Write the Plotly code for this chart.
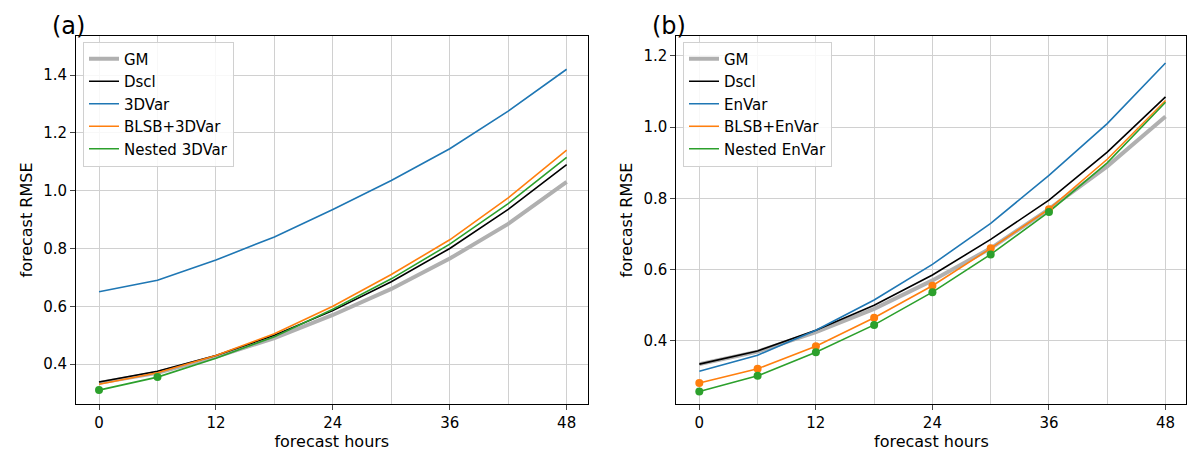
import plotly.graph_objects as go
from plotly.subplots import make_subplots

hours = [0, 6, 12, 18, 24, 30, 36, 42, 48]

# panel (a)
gm_a = [0.335, 0.370, 0.425, 0.490, 0.570, 0.660, 0.765, 0.885, 1.030]
dscl_a = [0.338, 0.375, 0.430, 0.500, 0.585, 0.685, 0.800, 0.935, 1.090]
var3d_a = [0.650, 0.690, 0.760, 0.840, 0.935, 1.035, 1.145, 1.275, 1.420]
blsb_a = [0.330, 0.370, 0.430, 0.505, 0.600, 0.710, 0.830, 0.975, 1.140]
nested_a = [0.310, 0.355, 0.420, 0.495, 0.590, 0.695, 0.815, 0.955, 1.115]
nested_a_marks = [0, 6]

# panel (b)
gm_b = [0.335, 0.370, 0.425, 0.490, 0.570, 0.660, 0.770, 0.890, 1.030]
dscl_b = [0.335, 0.372, 0.430, 0.500, 0.585, 0.685, 0.795, 0.930, 1.085]
envar_b = [0.315, 0.360, 0.430, 0.515, 0.615, 0.730, 0.865, 1.010, 1.180]
blsb_b = [0.282, 0.322, 0.385, 0.465, 0.555, 0.660, 0.770, 0.910, 1.075]
nested_b = [0.258, 0.302, 0.368, 0.445, 0.537, 0.643, 0.762, 0.900, 1.070]
marks_b = [0, 6, 12, 18, 24, 30, 36]

GRAY, BLACK, BLUE, ORANGE, GREEN = "#b0b0b0", "#000000", "#1f77b4", "#ff7f0e", "#2ca02c"

fig = make_subplots(rows=1, cols=2)


def add_panel(col, series, leg):
    for name, y, color, width in series:
        fig.add_trace(go.Scatter(x=hours, y=y, mode="lines", name=name,
                                 line=dict(color=color, width=width),
                                 legend=leg), row=1, col=col)


def add_marks(col, y, color, keep, leg):
    xs = [h for h in hours if h in keep]
    ys = [v for h, v in zip(hours, y) if h in keep]
    fig.add_trace(go.Scatter(x=xs, y=ys, mode="markers", showlegend=False,
                             marker=dict(color=color, size=8), legend=leg),
                  row=1, col=col)


add_panel(1, [("GM", gm_a, GRAY, 4), ("Dscl", dscl_a, BLACK, 1.6),
              ("3DVar", var3d_a, BLUE, 1.6), ("BLSB+3DVar", blsb_a, ORANGE, 1.6),
              ("Nested 3DVar", nested_a, GREEN, 1.6)], "legend")
add_marks(1, nested_a, GREEN, nested_a_marks, "legend")

add_panel(2, [("GM", gm_b, GRAY, 4), ("Dscl", dscl_b, BLACK, 1.6),
              ("EnVar", envar_b, BLUE, 1.6), ("BLSB+EnVar", blsb_b, ORANGE, 1.6),
              ("Nested EnVar", nested_b, GREEN, 1.6)], "legend2")
add_marks(2, blsb_b, ORANGE, marks_b, "legend2")
add_marks(2, nested_b, GREEN, marks_b, "legend2")

axis_common = dict(showgrid=True, gridcolor="#d0d0d0", gridwidth=1, showline=True,
                   linecolor="black", mirror=True, ticks="outside", ticklen=5,
                   zeroline=False, tickfont=dict(size=15))
for c in (1, 2):
    fig.update_xaxes(range=[-2.36, 50.15], tickvals=[0, 12, 24, 36, 48],
                     title=dict(text="forecast hours", font=dict(size=16), standoff=2),
                     minor=dict(dtick=6, tick0=0, showgrid=True, gridcolor="#d0d0d0"),
                     row=1, col=c, **axis_common)
    fig.update_yaxes(title=dict(text="forecast RMSE", font=dict(size=16), standoff=6),
                     row=1, col=c, **axis_common)
fig.update_xaxes(domain=[0.0567, 0.483], row=1, col=1)
fig.update_xaxes(domain=[0.557, 0.982], row=1, col=2)
fig.update_yaxes(range=[0.262, 1.535], tickvals=[0.4, 0.6, 0.8, 1.0, 1.2, 1.4],
                 tickformat=".1f", row=1, col=1)
fig.update_yaxes(range=[0.223, 1.256], tickvals=[0.4, 0.6, 0.8, 1.0, 1.2],
                 tickformat=".1f", row=1, col=2)

leg_style = dict(bgcolor="rgba(255,255,255,0.85)", bordercolor="#d0d0d0", borderwidth=1,
                 font=dict(size=15), xanchor="left", yanchor="top", tracegroupgap=0)
fig.update_layout(
    width=1200, height=456, plot_bgcolor="white", paper_bgcolor="white",
    font=dict(family="DejaVu Sans", color="black"),
    margin=dict(l=0, r=0, t=28, b=60),
    legend=dict(x=0.0625, y=0.985, xref="paper", **leg_style),
    legend2=dict(x=0.5625, y=0.985, xref="paper", **leg_style),
    annotations=[
        dict(text="(a)", x=0.035, y=1.0, xref="paper", yref="paper", xanchor="left",
             yanchor="bottom", showarrow=False, font=dict(size=24), yshift=-6),
        dict(text="(b)", x=0.535, y=1.0, xref="paper", yref="paper", xanchor="left",
             yanchor="bottom", showarrow=False, font=dict(size=24), yshift=-6),
    ],
)

fig.write_html("out.html")
